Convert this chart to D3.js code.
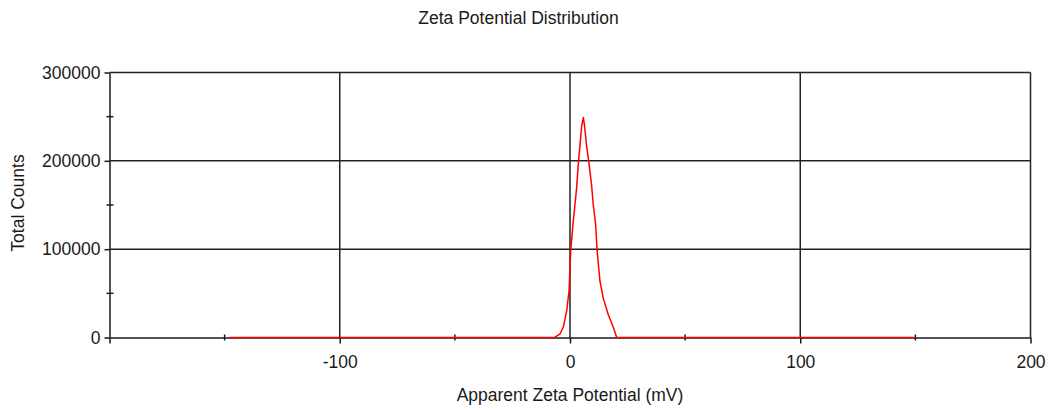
<!DOCTYPE html>
<html>
<head>
<meta charset="utf-8">
<script src="https://cdn.jsdelivr.net/npm/d3@7"></script>
<style>
  html, body { margin: 0; padding: 0; background: #fff; }
  svg { display: block; font-family: "Liberation Sans", Arial, sans-serif; }
</style>
</head>
<body>
<svg id="chart" width="1053" height="410"></svg>
<script>
// Zeta potential distribution (apparent zeta potential, mV vs total counts)
const zetaMv = [-148, -100, -50, -7, -6.5, -4.3, -2.9, -1.4, -0.4, 0.3, 1.3, 2.9, 3.6, 4.3, 5.1, 5.8,
                6.3, 7.2, 8.3, 9.4, 10.1, 11.1, 11.8, 13.0, 14.5, 16.6, 18.8, 20.3, 50, 100, 150];
const totalCounts = [0, 0, 0, 0, 300, 4200, 11700, 30600, 53200, 98000, 128000, 170000, 196000, 217000, 240000, 249000,
                     240000, 217000, 196000, 172000, 150000, 129000, 98000, 64000, 44000, 26000, 11500, 0, 0, 0, 0];

const xMajorTicks = [-200, -100, 0, 100, 200];
const xMinorTicks = [-150, -50, 50, 150];
const yMajorTicks = [0, 100000, 200000, 300000];
const yMinorTicks = [50000, 150000, 250000];

const chartTitle = "Zeta Potential Distribution";
const xTitle = "Apparent Zeta Potential (mV)";
const yTitle = "Total Counts";

const svg = d3.select("#chart");
const plotLeft = 109.5, plotRight = 1030.5, plotTop = 72.5, plotBottom = 337.5;
const fontSize = "17.5px";
const ink = "#1a1a1a";

const x = d3.scaleLinear().domain([-200, 200]).range([plotLeft, plotRight]);
const y = d3.scaleLinear().domain([0, 300000]).range([plotBottom, plotTop]);

// grid lines
const grid = svg.append("g").attr("stroke", "#222").attr("stroke-width", 1.5);
grid.selectAll("line.v").data(xMajorTicks.filter(d => d > -200))
  .join("line").attr("class", "v")
  .attr("x1", d => x(d)).attr("x2", d => x(d))
  .attr("y1", plotTop).attr("y2", plotBottom);
grid.selectAll("line.h").data(yMajorTicks.filter(d => d > 0))
  .join("line").attr("class", "h")
  .attr("x1", plotLeft).attr("x2", plotRight)
  .attr("y1", d => y(d)).attr("y2", d => y(d));

// bottom axis: majors point down, minors cross the line
const xAxis = svg.append("g").attr("transform", `translate(0,${plotBottom})`)
  .call(d3.axisBottom(x).tickValues(xMajorTicks).tickSizeInner(6).tickSizeOuter(0)
    .tickPadding(12).tickFormat(d => d === -200 ? "" : String(d)));
xAxis.select(".domain").attr("stroke", ink).attr("stroke-width", 1.5);
xAxis.selectAll(".tick line").attr("stroke", ink).attr("stroke-width", 1.5);
xAxis.selectAll(".tick text").attr("fill", ink).style("font-size", fontSize)
  .style("font-family", "'Liberation Sans', Arial, sans-serif");
svg.append("g").selectAll("line").data(xMinorTicks).join("line")
  .attr("x1", d => x(d)).attr("x2", d => x(d))
  .attr("y1", plotBottom - 3).attr("y2", plotBottom + 3)
  .attr("stroke", ink).attr("stroke-width", 1.5);

// left axis
const yAxis = svg.append("g").attr("transform", `translate(${plotLeft},0)`)
  .call(d3.axisLeft(y).tickValues(yMajorTicks).tickSizeInner(5).tickSizeOuter(0)
    .tickPadding(4).tickFormat(d => String(d)));
yAxis.select(".domain").attr("stroke", ink).attr("stroke-width", 1.5);
yAxis.selectAll(".tick line").attr("stroke", ink).attr("stroke-width", 1.5);
yAxis.selectAll(".tick text").attr("fill", ink).style("font-size", fontSize)
  .style("font-family", "'Liberation Sans', Arial, sans-serif");
svg.append("g").selectAll("line").data(yMinorTicks).join("line")
  .attr("x1", plotLeft - 3).attr("x2", plotLeft + 4)
  .attr("y1", d => y(d)).attr("y2", d => y(d))
  .attr("stroke", ink).attr("stroke-width", 1.5);

// distribution curve
const line = d3.line().x((d, i) => x(zetaMv[i])).y(d => y(d));
svg.append("path").datum(totalCounts)
  .attr("d", line)
  .attr("fill", "none").attr("stroke", "#ff0000").attr("stroke-width", 1.5)
  .attr("stroke-linejoin", "round");

// titles
svg.append("text").attr("x", 518.5).attr("y", 23.5).attr("text-anchor", "middle")
  .style("font-size", fontSize).attr("fill", ink).text(chartTitle);
svg.append("text").attr("x", 570).attr("y", 401).attr("text-anchor", "middle")
  .style("font-size", fontSize).attr("fill", ink).text(xTitle);
svg.append("text").attr("transform", "translate(23.5,203) rotate(-90)")
  .attr("text-anchor", "middle").style("font-size", fontSize).attr("fill", ink).text(yTitle);
</script>
</body>
</html>
